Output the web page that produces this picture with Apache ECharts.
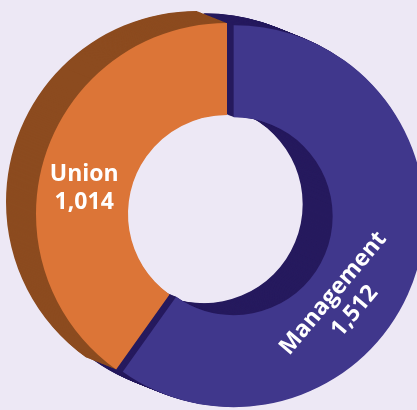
<!DOCTYPE html>
<html>
<head>
<meta charset="utf-8">
<script src="https://cdn.jsdelivr.net/npm/echarts@6/dist/echarts.min.js"></script>
<style>
  html, body { margin: 0; padding: 0; background: #ede8f5; }
  #chart { width: 417px; height: 410px; }
</style>
</head>
<body>
<div id="chart"></div>
<script>
// Employee groups and their head counts
const categories = ['Union', 'Management'];
const values = [1014, 1512];

// Face and side colours for each group
const faceColors = ['#dc7537', '#40378c'];
const sideColors = ['#8c4b1f', '#261a5e'];

// Ring geometry (pixels)
const CX = 227, CY = 214;
const R_IN = 99, R_OUT = 191;
const DEPTH = 30;              // number of extrusion layers
const STEP_X = -1, STEP_Y = -0.4;
const EXPLODE = 7;             // Management slice pulled out
const LABEL_ANGLE = [190, 38]; // label placement on the ring, degrees clockwise from 3 o'clock
const LABEL_R = [145, 140];
const LABEL_ROT = [0, 50];     // text rotation, degrees counter-clockwise

function buildData(colors) {
  return categories.map((name, i) => ({
    name: name,
    value: values[i],
    selected: i === 1,
    itemStyle: { color: colors[i], borderWidth: 0 }
  }));
}

function pieLayer(cx, cy, colors) {
  return {
    type: 'pie',
    silent: true,
    animation: false,
    center: [cx, cy],
    radius: [R_IN, R_OUT],
    startAngle: 90,
    clockwise: false,
    avoidLabelOverlap: false,
    selectedMode: 'single',
    selectedOffset: EXPLODE,
    emphasis: { disabled: true },
    labelLine: { show: false },
    label: { show: false },
    data: buildData(colors)
  };
}

const series = [];
// Extruded body, back to front
for (let k = DEPTH; k >= 1; k--) {
  series.push(pieLayer(CX + STEP_X * k, CY + STEP_Y * k, sideColors));
}
// Front face
series.push(pieLayer(CX, CY, faceColors));

// Offset of the pulled-out slice along its bisector
const total = values.reduce((a, b) => a + b, 0);
const unionSweep = values[0] / total * 360;
const midRad = (270 + (360 - unionSweep) / 2) * Math.PI / 180;
const offX = [0, EXPLODE * Math.cos(midRad)];
const offY = [0, EXPLODE * Math.sin(midRad)];

// Slice labels: name and head count, set on the ring
const labels = categories.map((name, i) => {
  const a = LABEL_ANGLE[i] * Math.PI / 180;
  return {
    type: 'text',
    silent: true,
    x: CX + offX[i] + LABEL_R[i] * Math.cos(a),
    y: CY + offY[i] + LABEL_R[i] * Math.sin(a),
    rotation: LABEL_ROT[i] * Math.PI / 180,
    z: 100,
    style: {
      text: name + '\n' + values[i].toLocaleString('en-US'),
      fill: '#ffffff',
      fontFamily: 'Open Sans',
      fontWeight: 'bold',
      fontSize: 23,
      lineHeight: 28,
      align: 'center',
      verticalAlign: 'middle'
    }
  };
});

const chart = echarts.init(document.getElementById('chart'), null, { renderer: 'canvas' });
chart.setOption({
  backgroundColor: '#ede8f5',
  animation: false,
  series: series,
  graphic: labels
});
</script>
</body>
</html>
